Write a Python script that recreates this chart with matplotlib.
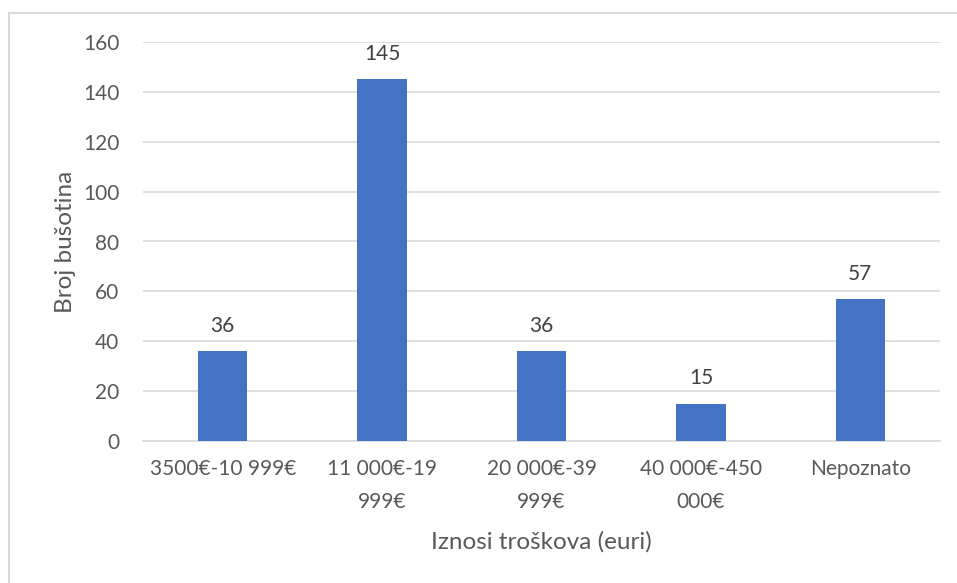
import matplotlib
matplotlib.use('Agg')
import matplotlib.pyplot as plt
from matplotlib.lines import Line2D

# Broj bušotina po rasponu troškova
categories = ['3500€-10 999€', '11 000€-19\n999€', '20 000€-39\n999€', '40 000€-450\n000€', 'Nepoznato']
counts = [36, 145, 36, 15, 57]
yticks = [0, 20, 40, 60, 80, 100, 120, 140, 160]

text_color = '#595959'
plt.rcParams['font.family'] = ['Lato', 'DejaVu Sans']

fig = plt.figure(figsize=(9.57, 5.83), dpi=100)
ax = fig.add_axes([143 / 957, 142 / 583, 797 / 957, 399 / 583])

bars = ax.bar(range(len(categories)), counts, width=0.31, color='#4472C4', zorder=3)
for b, v in zip(bars, counts):
    ax.annotate(str(v), (b.get_x() + b.get_width() / 2, v), xytext=(0, 11),
                textcoords='offset points', ha='center', va='bottom',
                fontsize=15, color='#404040')

ax.set_xlim(-0.5, len(categories) - 0.5)
ax.set_ylim(0, 160)
ax.set_yticks(yticks)
ax.set_xticks(range(len(categories)))
ax.set_xticklabels(categories, linespacing=1.8)
ax.tick_params(axis='both', length=0, labelsize=15, labelcolor=text_color)
ax.tick_params(axis='x', pad=13)
ax.tick_params(axis='y', pad=17)
ax.grid(axis='y', color='#D9D9D9', linewidth=1.2, zorder=0)
for s in ['top', 'right', 'left']:
    ax.spines[s].set_visible(False)
ax.spines['bottom'].set_color('#D9D9D9')
ax.spines['bottom'].set_linewidth(1.2)

ax.set_xlabel('Iznosi troškova (euri)', fontsize=17.5, color=text_color, labelpad=14)
ax.set_ylabel('Broj bušotina', fontsize=17.5, color=text_color, labelpad=5)

# okvir grafikona
fig.add_artist(Line2D([9 / 957, 1], [1 - 13 / 583] * 2, color='#D9D9D9', lw=1.5))
fig.add_artist(Line2D([9 / 957] * 2, [0, 1 - 13 / 583], color='#D9D9D9', lw=1.5))

fig.savefig('out.png', dpi=100)
